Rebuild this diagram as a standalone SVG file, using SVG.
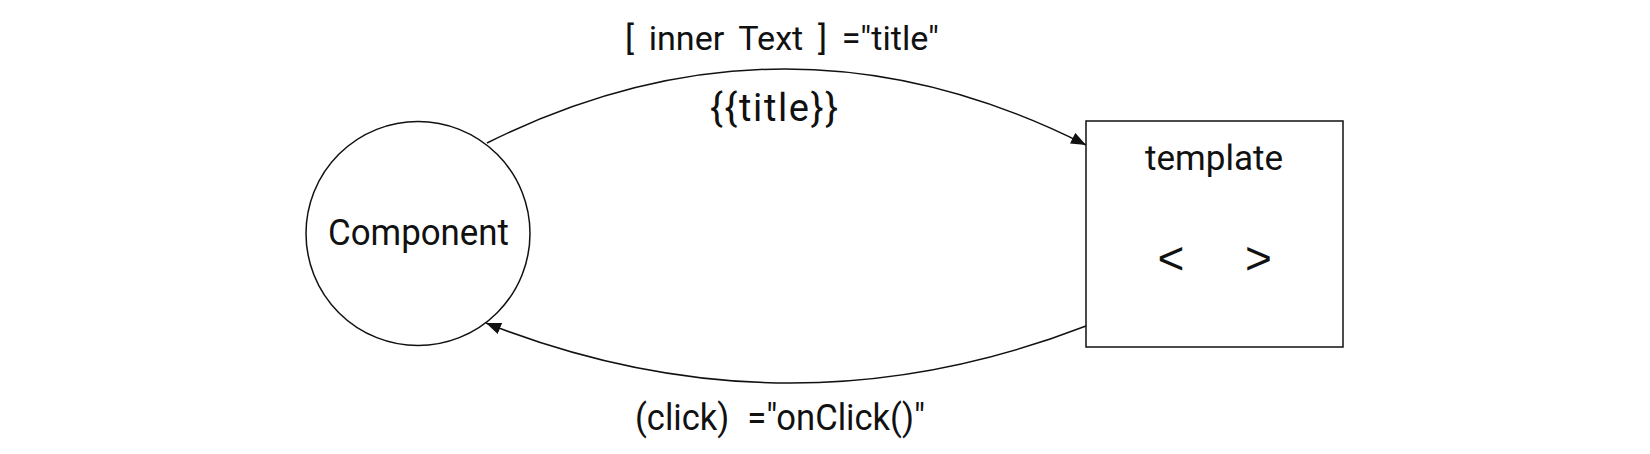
<svg xmlns="http://www.w3.org/2000/svg" width="1650" height="454" viewBox="0 0 1650 454">
<style>
text{font-family:Roboto,"Liberation Sans",sans-serif;fill:#111}
.sym{font-family:"Liberation Sans",Arial,sans-serif;font-size:46px;text-anchor:middle}
.edge{fill:none;stroke:#111;stroke-width:1.5}
.shape{fill:#fff;stroke:#111;stroke-width:1.5}
</style>
<defs>
<marker id="arr" markerWidth="15" markerHeight="12" refX="15" refY="6" orient="auto" markerUnits="userSpaceOnUse">
<path d="M0,0 L15,6 L0,12 Z" fill="#111"/>
</marker>
</defs>
<rect width="1650" height="454" fill="#fff"/>
<g id="component">
<circle class="shape" cx="418" cy="233.5" r="112"/>
<text x="328" y="245" font-size="37" textLength="181" lengthAdjust="spacingAndGlyphs">Component</text>
</g>
<g id="template">
<rect class="shape" x="1086" y="121" width="257" height="226"/>
<text x="1145" y="170" font-size="35" textLength="138" lengthAdjust="spacingAndGlyphs">template</text>
<text class="sym" x="1171" y="274">&lt;</text>
<text class="sym" x="1258.5" y="274">&gt;</text>
</g>
<g id="connectors">
<path class="edge" d="M487,143 Q787,-6 1086,145" marker-end="url(#arr)"/>
<path class="edge" d="M1086,326 Q787,441.5 486,323" marker-end="url(#arr)"/>
<text x="625" y="50" font-size="33" word-spacing="6" textLength="314" lengthAdjust="spacingAndGlyphs">[ inner Text ] ="title"</text>
<text x="710" y="121" font-size="38" textLength="128">{{title}}</text>
<text x="635" y="430" font-size="37" word-spacing="10" textLength="290" lengthAdjust="spacingAndGlyphs">(click) ="onClick()"</text>
</g>
</svg>
